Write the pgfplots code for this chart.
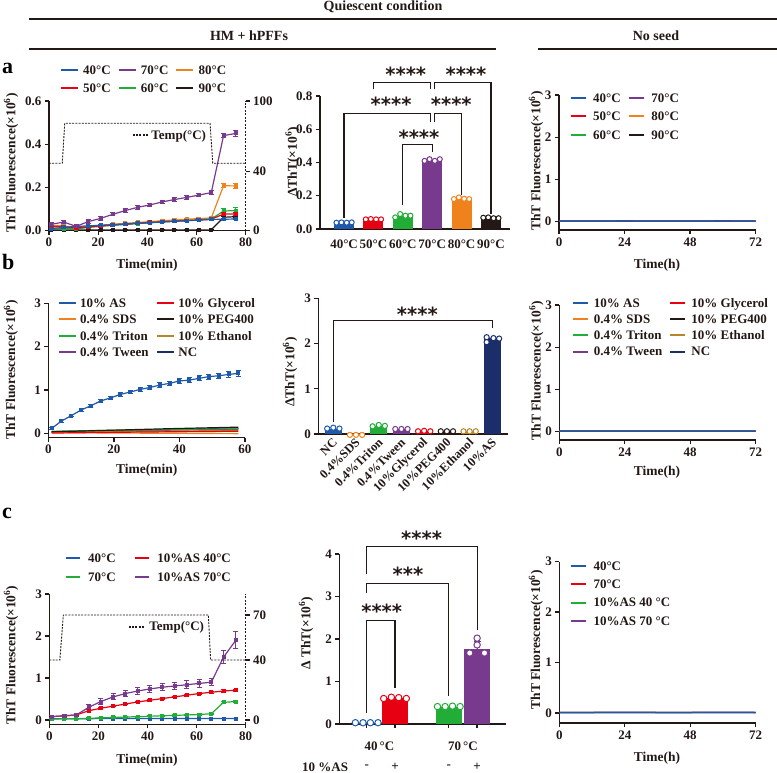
\documentclass[border=0pt]{standalone}
\usepackage{pgfplots}
\pgfplotsset{compat=1.18}
\usepackage{pgfplotstable}
\usepackage{fontspec}
\setmainfont{Liberation Serif}
\newfontfamily\starfont{DejaVu Sans}
\definecolor{ax}{RGB}{35,24,21}
\definecolor{cblue}{RGB}{31,90,170}
\definecolor{cred}{RGB}{230,0,18}
\definecolor{cgreen}{RGB}{34,172,56}
\definecolor{cpurple}{RGB}{120,58,140}
\definecolor{corange}{RGB}{240,130,30}
\definecolor{cblack}{RGB}{35,24,21}
\definecolor{cnavy}{RGB}{28,46,106}
\definecolor{cochre}{RGB}{184,134,40}
\newcommand\fs[1]{\fontsize{#1}{#1}\selectfont\bfseries}
\newcommand\lb[2]{\makebox[#1][l]{#2}}

\tikzset{bk/.style={line width=1.2pt, draw=ax},
  st/.style={font=\starfont\bfseries\fontsize{19.5}{19.5}\selectfont, text=ax, inner sep=0pt, anchor=base, yshift=-11pt}}

\pgfplotsset{
  panel/.style={scale only axis, anchor=south west,
    axis x line*=bottom, axis y line*=left,
    axis line style={line width=1.3pt, draw=ax},
    tick align=outside, major tick length=4pt,
    tick style={line width=1.3pt, draw=ax},
    tick label style={font=\fs{13}, text=ax},
    label style={font=\fs{13.5}, text=ax},
    /pgf/number format/assume math mode=true,
    legend cell align=left},
  tempax/.style={scale only axis, anchor=south west, axis x line=none, axis y line*=right,
    axis line style={line width=1.1pt, draw=ax, dash pattern=on 2pt off 1.5pt},
    tick align=outside, major tick length=4pt,
    tick style={line width=1.1pt, draw=ax, solid},
    tick label style={font=\fs{13}, text=ax},
    /pgf/number format/assume math mode=true,
    legend cell align=left},
  lgline/.style 2 args={legend image code/.code={\draw[line width=2pt, ##1] (0pt,0pt) -- (#1,0pt); \path (#2,0pt);}},
  lgbase/.style={legend style={draw=none, fill=none, inner sep=0pt, outer sep=0pt,
    at={(axis description cs:0,1)}, anchor=north west,
    nodes={inner xsep=0pt, inner ysep=0.5pt, text height=10pt, text depth=1.5pt, text=ax}}},
  dat/.style={forget plot, line width=1.2pt, mark=square*, mark size=1.4pt,
    error bars/y dir=both, error bars/y explicit, error bars/error bar style={line width=1pt},
    error bars/error mark options={rotate=90, mark size=2.5pt, line width=1pt}},
  flat/.style={forget plot, line width=1.2pt},
  dots/.style={forget plot, only marks, mark=*, mark size=#1, mark options={fill=white, line width=1pt}},
  onebar/.style={forget plot, ybar, bar shift=0pt, bar width=#1, draw=none},
  tline/.style={ax, line width=0.9pt, dash pattern=on 2pt off 1.2pt}
}

% panel a, HM + hPFFs, ThT kinetics
\pgfplotstableread{
t b be r re g ge o oe p pe k ke
1 0.010 0.004 0.020 0.005 0.012 0.004 0.025 0.005 0.030 0.008 0.003 0.002
6 0.015 0.004 0.018 0.005 0.010 0.004 0.022 0.005 0.040 0.008 0.003 0.002
11 0.020 0.004 0.012 0.005 0.008 0.004 0.015 0.005 0.020 0.008 0.003 0.002
16 0.022 0.004 0.018 0.005 0.015 0.004 0.020 0.005 0.042 0.008 0.003 0.002
21 0.025 0.004 0.022 0.005 0.020 0.004 0.025 0.005 0.057 0.008 0.003 0.002
26 0.028 0.004 0.026 0.005 0.025 0.004 0.030 0.005 0.076 0.008 0.003 0.002
31 0.031 0.004 0.030 0.005 0.029 0.004 0.034 0.005 0.093 0.008 0.003 0.002
36 0.034 0.004 0.034 0.005 0.033 0.004 0.038 0.005 0.108 0.008 0.003 0.002
41 0.037 0.004 0.038 0.005 0.037 0.004 0.042 0.005 0.119 0.008 0.003 0.002
46 0.040 0.004 0.041 0.005 0.041 0.004 0.046 0.005 0.133 0.008 0.003 0.002
51 0.043 0.004 0.044 0.005 0.044 0.004 0.050 0.005 0.144 0.008 0.003 0.002
56 0.046 0.004 0.047 0.005 0.047 0.004 0.053 0.005 0.154 0.008 0.003 0.002
61 0.049 0.004 0.050 0.005 0.050 0.004 0.056 0.005 0.165 0.008 0.003 0.002
66 0.052 0.004 0.053 0.005 0.054 0.004 0.059 0.005 0.176 0.008 0.004 0.002
71 0.053 0.004 0.077 0.008 0.091 0.012 0.208 0.010 0.440 0.010 0.062 0.004
76 0.054 0.004 0.077 0.008 0.093 0.012 0.207 0.010 0.450 0.015 0.065 0.004
}\tA

% panel b, HM + hPFFs, additives
\pgfplotstableread{
t as ase sds gly tri peg eth twe nc
1 0.115 0.030 0.020 0.010 0.050 0.040 0.030 0.040 0.030
4 0.285 0.030 0.020 0.012 0.054 0.045 0.032 0.043 0.035
7 0.410 0.030 0.016 0.015 0.058 0.050 0.034 0.046 0.040
10 0.540 0.030 0.015 0.017 0.062 0.056 0.036 0.049 0.045
13 0.640 0.035 0.014 0.020 0.066 0.062 0.038 0.052 0.050
16 0.750 0.035 0.012 0.022 0.070 0.068 0.040 0.055 0.055
19 0.820 0.040 0.010 0.025 0.073 0.074 0.042 0.058 0.060
22 0.900 0.040 0.010 0.027 0.076 0.080 0.044 0.061 0.065
25 0.955 0.040 0.009 0.030 0.079 0.086 0.046 0.064 0.070
28 1.015 0.045 0.007 0.032 0.082 0.092 0.048 0.067 0.075
31 1.060 0.045 0.006 0.034 0.085 0.098 0.050 0.070 0.080
34 1.115 0.050 0.005 0.036 0.088 0.104 0.052 0.073 0.085
37 1.155 0.050 0.004 0.038 0.091 0.110 0.054 0.076 0.090
40 1.210 0.050 0.002 0.040 0.094 0.115 0.056 0.079 0.095
43 1.230 0.055 0.001 0.042 0.097 0.120 0.058 0.082 0.100
46 1.270 0.055 0.000 0.044 0.100 0.125 0.060 0.085 0.103
49 1.310 0.060 -0.002 0.046 0.103 0.130 0.062 0.088 0.106
52 1.330 0.060 -0.003 0.048 0.106 0.135 0.064 0.091 0.109
55 1.360 0.060 -0.004 0.050 0.108 0.140 0.066 0.094 0.112
58 1.385 0.065 -0.005 0.050 0.110 0.145 0.068 0.097 0.115
}\tB

% panel c, HM + hPFFs, AS and temperature
\pgfplotstableread{
t b be r re g ge p pe
1 0.030 0.010 0.080 0.020 0.020 0.015 0.080 0.030
6 0.030 0.010 0.100 0.020 0.030 0.015 0.100 0.030
11 0.030 0.010 0.120 0.020 0.030 0.015 0.120 0.030
16 0.030 0.010 0.220 0.020 0.040 0.015 0.300 0.060
21 0.035 0.010 0.280 0.020 0.050 0.015 0.440 0.060
26 0.035 0.010 0.330 0.020 0.060 0.015 0.550 0.070
31 0.035 0.010 0.380 0.020 0.070 0.015 0.630 0.070
36 0.035 0.010 0.430 0.020 0.080 0.015 0.690 0.080
41 0.035 0.010 0.470 0.020 0.090 0.015 0.740 0.080
46 0.035 0.010 0.510 0.020 0.100 0.015 0.780 0.080
51 0.035 0.010 0.550 0.020 0.110 0.015 0.810 0.080
56 0.035 0.010 0.590 0.025 0.120 0.015 0.840 0.090
61 0.035 0.010 0.630 0.025 0.130 0.015 0.870 0.090
66 0.035 0.010 0.660 0.025 0.150 0.015 0.900 0.090
71 0.035 0.010 0.690 0.025 0.420 0.030 1.500 0.150
76 0.035 0.010 0.710 0.025 0.440 0.030 1.900 0.200
}\tC

% no-seed controls, flat baselines
\pgfplotstableread{
h v
0 0.010
12 0.010
24 0.011
36 0.010
48 0.010
60 0.011
72 0.010
}\tN

\begin{document}
\begin{tikzpicture}
\path[use as bounding box] (0pt,0pt) rectangle (777pt,773pt);

% ---------- header ----------
\node[font=\fs{14}, text=ax] at (383pt,766pt) {Quiescent condition};
\draw[line width=2.5pt, ax] (29pt,754pt) -- (777pt,754pt);
\node[font=\fs{14}, text=ax] at (249pt,737pt) {HM + hPFFs};
\node[font=\fs{14}, text=ax] at (656pt,737pt) {No seed};
\draw[line width=2.5pt, ax] (29pt,724pt) -- (496pt,724pt);
\draw[line width=2.5pt, ax] (538pt,724pt) -- (777pt,724pt);
\node[font=\fs{22}, anchor=base west, inner sep=0pt] at (2pt,699.7pt) {a};
\node[font=\fs{22}, anchor=base west, inner sep=0pt] at (2pt,503pt) {b};
\node[font=\fs{22}, anchor=base west, inner sep=0pt] at (2pt,254.7pt) {c};

% ---------- a left ----------
\begin{axis}[panel, at={(49pt,542.3pt)}, width=196.7pt, height=129.7pt,
  xmin=0, xmax=80, ymin=0, ymax=0.6, xtick={0,20,40,60,80}, ytick={0,0.2,0.4,0.6},
  yticklabel style={/pgf/number format/.cd, fixed, fixed zerofill, precision=1},
  xlabel={Time(min)}, ylabel={ThT Fluorescence(×10\textsuperscript{6})},
  xlabel style={at={(axis description cs:0.498,-0.264)}, anchor=center},
  ylabel style={at={(axis description cs:-0.193,0.522)}, anchor=center},
  lgbase, legend columns=3, lgline={17pt}{22pt},
  legend style={xshift=11pt, yshift=37.25pt, row sep=5.5pt, font=\fs{13},
    /tikz/every even column/.append style={column sep=6.5pt}}]
\addplot[dat, cblack] table[x=t, y=k, y error=ke] {\tA};
\addplot[dat, corange] table[x=t, y=o, y error=oe] {\tA};
\addplot[dat, cgreen] table[x=t, y=g, y error=ge] {\tA};
\addplot[dat, cred] table[x=t, y=r, y error=re] {\tA};
\addplot[dat, cblue] table[x=t, y=b, y error=be] {\tA};
\addplot[dat, cpurple] table[x=t, y=p, y error=pe] {\tA};
\addlegendimage{cblue}\addlegendentry{\lb{28pt}{40°C}}
\addlegendimage{cpurple}\addlegendentry{\lb{28pt}{70°C}}
\addlegendimage{corange}\addlegendentry{80°C}
\addlegendimage{cred}\addlegendentry{\lb{28pt}{50°C}}
\addlegendimage{cgreen}\addlegendentry{\lb{28pt}{60°C}}
\addlegendimage{cblack}\addlegendentry{90°C}
\end{axis}
\begin{axis}[tempax, at={(49pt,542.3pt)}, width=196.7pt, height=129.7pt,
  xmin=0, xmax=80, ymin=0, ymax=100, ytick={0,45.5,100}, yticklabels={0,40,100},
  lgbase, lgline={15pt}{18pt}, legend style={xshift=83pt, yshift=-27.75pt, font=\fs{13}}]
\addplot[tline, forget plot] coordinates {(0,52) (5.4,52) (6.4,82.8) (65.5,82.8) (66.6,52) (80,52)};
\addlegendimage{tline}\addlegendentry{Temp(°C)}
\end{axis}

% ---------- a middle ----------
\begin{axis}[panel, at={(320pt,544pt)}, width=190pt, height=133pt, clip=false,
  xmin=-0.82, xmax=5.65, ymin=0, ymax=0.8, ytick={0,0.2,0.4,0.6,0.8},
  yticklabel style={/pgf/number format/.cd, fixed, fixed zerofill, precision=1},
  xtick={0,1,2,3,4,5}, xticklabels={40°C,50°C,60°C,70°C,80°C,90°C},
  xtick style={draw=none}, xticklabel style={yshift=-3pt},
  ylabel={ΔThT(×10\textsuperscript{6})},
  ylabel style={at={(axis description cs:-0.145,0.504)}, anchor=center}]
\addplot[onebar=0.68, fill=cblue] coordinates {(0,0.038)};
\addplot[onebar=0.68, fill=cred] coordinates {(1,0.058)};
\addplot[onebar=0.68, fill=cgreen] coordinates {(2,0.078)};
\addplot[onebar=0.68, fill=cpurple] coordinates {(3,0.415)};
\addplot[onebar=0.68, fill=corange] coordinates {(4,0.182)};
\addplot[onebar=0.68, fill=cblack] coordinates {(5,0.066)};
\addplot[dots=2.5pt, draw=cblue] coordinates {(-0.26,0.038) (-0.09,0.040) (0.09,0.038) (0.26,0.040)};
\addplot[dots=2.5pt, draw=cred] coordinates {(0.74,0.058) (0.91,0.060) (1.09,0.058) (1.26,0.058)};
\addplot[dots=2.5pt, draw=cgreen] coordinates {(1.74,0.070) (1.91,0.090) (2.09,0.080) (2.26,0.080)};
\addplot[dots=2.5pt, draw=cpurple] coordinates {(2.74,0.410) (2.91,0.420) (3.09,0.410) (3.26,0.420)};
\addplot[dots=2.5pt, draw=corange] coordinates {(3.74,0.180) (3.91,0.190) (4.09,0.182) (4.26,0.180)};
\addplot[dots=2.5pt, draw=cblack] coordinates {(4.74,0.068) (4.91,0.070) (5.09,0.065) (5.26,0.065)};
\draw[bk] (axis cs:2,0.145) -- (axis cs:2,0.509) -- (axis cs:3,0.509) -- (axis cs:3,0.465);
\draw[bk] (axis cs:0,0.065) -- (axis cs:0,0.694) -- (axis cs:2.93,0.694) -- (axis cs:2.93,0.645);
\draw[bk] (axis cs:3.07,0.645) -- (axis cs:3.07,0.694) -- (axis cs:4,0.694) -- (axis cs:4,0.205);
\draw[bk] (axis cs:1,0.84) -- (axis cs:1,0.88) -- (axis cs:2.93,0.88) -- (axis cs:2.93,0.84);
\draw[bk] (axis cs:3.07,0.84) -- (axis cs:3.07,0.88) -- (axis cs:5,0.88) -- (axis cs:5,0.088);
\node[st] at (axis cs:2.55,0.575) {****};
\node[st] at (axis cs:1.6,0.77) {****};
\node[st] at (axis cs:3.65,0.77) {****};
\node[st] at (axis cs:2.1,0.956) {****};
\node[st] at (axis cs:4.15,0.956) {****};
\end{axis}

% ---------- a right ----------
\begin{axis}[panel, at={(559pt,543pt)}, width=196.7pt, height=135pt,
  xmin=0, xmax=72, ymin=-0.2, ymax=3, xtick={0,24,48,72}, ytick={0,1,2,3},
  xlabel={Time(h)}, ylabel={ThT Fluorescence(×10\textsuperscript{6})},
  xlabel style={at={(axis description cs:0.498,-0.259)}, anchor=center},
  ylabel style={at={(axis description cs:-0.117,0.511)}, anchor=center},
  lgbase, legend columns=2, lgline={15pt}{22pt},
  legend style={xshift=11pt, yshift=3.25pt, row sep=6pt, font=\fs{13},
    /tikz/every even column/.append style={column sep=6pt}}]
\addplot[flat, cblack] table[x=h, y=v] {\tN};
\addplot[flat, corange] table[x=h, y=v] {\tN};
\addplot[flat, cgreen] table[x=h, y=v] {\tN};
\addplot[flat, cpurple] table[x=h, y=v] {\tN};
\addplot[flat, cred] table[x=h, y=v] {\tN};
\addplot[flat, cblue, line width=1.5pt] table[x=h, y=v] {\tN};
\addlegendimage{cblue}\addlegendentry{\lb{29pt}{40°C}}
\addlegendimage{cpurple}\addlegendentry{70°C}
\addlegendimage{cred}\addlegendentry{\lb{29pt}{50°C}}
\addlegendimage{corange}\addlegendentry{80°C}
\addlegendimage{cgreen}\addlegendentry{\lb{29pt}{60°C}}
\addlegendimage{cblack}\addlegendentry{90°C}
\end{axis}

% ---------- b left ----------
\begin{axis}[panel, at={(48.3pt,335.2pt)}, width=196.7pt, height=134.5pt,
  xmin=0, xmax=60, ymin=-0.1, ymax=3, xtick={0,20,40,60}, ytick={0,1,2,3},
  xlabel={Time(min)}, ylabel={ThT Fluorescence(×10\textsuperscript{6})},
  xlabel style={at={(axis description cs:0.5,-0.239)}, anchor=center},
  ylabel style={at={(axis description cs:-0.19,0.504)}, anchor=center},
  lgbase, legend columns=2, lgline={17pt}{21pt},
  legend style={xshift=9.7pt, yshift=6.55pt, row sep=4pt, font=\fs{13},
    /tikz/every even column/.append style={column sep=6pt}}]
\addplot[flat, cnavy] table[x=t, y=nc] {\tB};
\addplot[flat, cpurple] table[x=t, y=twe] {\tB};
\addplot[flat, cochre] table[x=t, y=eth] {\tB};
\addplot[flat, corange] table[x=t, y=sds] {\tB};
\addplot[flat, cgreen] table[x=t, y=tri] {\tB};
\addplot[flat, cblack] table[x=t, y=peg] {\tB};
\addplot[flat, cred] table[x=t, y=gly] {\tB};
\addplot[dat, cblue] table[x=t, y=as, y error=ase] {\tB};
\addlegendimage{cblue}\addlegendentry{\lb{70pt}{10\% AS}}
\addlegendimage{cred}\addlegendentry{10\% Glycerol}
\addlegendimage{corange}\addlegendentry{\lb{70pt}{0.4\% SDS}}
\addlegendimage{cblack}\addlegendentry{10\% PEG400}
\addlegendimage{cgreen}\addlegendentry{\lb{70pt}{0.4\% Triton}}
\addlegendimage{cochre}\addlegendentry{10\% Ethanol}
\addlegendimage{cpurple}\addlegendentry{\lb{70pt}{0.4\% Tween}}
\addlegendimage{cnavy}\addlegendentry{NC}
\end{axis}

% ---------- b middle ----------
\begin{axis}[panel, at={(318.3pt,339pt)}, width=189.7pt, height=135.7pt, clip=false,
  xmin=-0.66, xmax=7.69, ymin=0, ymax=3, ytick={0,1,2,3},
  xtick={0,1,2,3,4,5,6,7},
  xticklabels={NC,0.4\%SDS,0.4\%Triton,0.4\%Tween,10\%Glycerol,10\%PEG400,10\%Ethanol,10\%AS},
  xtick style={draw=none}, xticklabel style={rotate=45, anchor=east, font=\fs{12.5}, xshift=3pt, yshift=-3pt},
  ylabel={ΔThT(×10\textsuperscript{6})},
  ylabel style={at={(axis description cs:-0.149,0.457)}, anchor=center}]
\addplot[onebar=0.73, fill=cblue] coordinates {(0,0.12)};
\addplot[onebar=0.73, fill=corange] coordinates {(1,-0.01)};
\addplot[onebar=0.73, fill=cgreen] coordinates {(2,0.18)};
\addplot[onebar=0.73, fill=cpurple] coordinates {(3,0.11)};
\addplot[onebar=0.73, fill=cred] coordinates {(4,0.065)};
\addplot[onebar=0.73, fill=cblack] coordinates {(5,0.06)};
\addplot[onebar=0.73, fill=cochre] coordinates {(6,0.06)};
\addplot[onebar=0.73, fill=cnavy] coordinates {(7,2.12)};
\addplot[dots=2.6pt, draw=cblue] coordinates {(-0.27,0.12) (0,0.14) (0.27,0.12)};
\addplot[dots=2.6pt, draw=corange] coordinates {(0.73,-0.02) (1,-0.02) (1.27,-0.02)};
\addplot[dots=2.6pt, draw=cgreen] coordinates {(1.73,0.17) (2,0.20) (2.27,0.18)};
\addplot[dots=2.6pt, draw=cpurple] coordinates {(2.73,0.11) (3,0.11) (3.27,0.11)};
\addplot[dots=2.6pt, draw=cred] coordinates {(3.73,0.06) (4,0.07) (4.27,0.06)};
\addplot[dots=2.6pt, draw=cblack] coordinates {(4.73,0.06) (5,0.06) (5.27,0.06)};
\addplot[dots=2.6pt, draw=cochre] coordinates {(5.73,0.06) (6,0.06) (6.27,0.06)};
\addplot[dots=2.6pt, draw=cnavy] coordinates {(6.75,2.14) (6.75,2.03) (7.05,2.12) (7.3,2.11)};
\draw[bk] (axis cs:0,0.27) -- (axis cs:0,2.505) -- (axis cs:7,2.505) -- (axis cs:7,2.34);
\node[st] at (axis cs:3.7,2.73) {****};
\end{axis}

% ---------- b right ----------
\begin{axis}[panel, at={(559.3pt,332.9pt)}, width=196.4pt, height=135.1pt,
  xmin=0, xmax=72, ymin=-0.2, ymax=3, xtick={0,24,48,72}, ytick={0,1,2,3},
  xlabel={Time(h)}, ylabel={ThT Fluorescence(×10\textsuperscript{6})},
  xlabel style={at={(axis description cs:0.498,-0.241)}, anchor=center},
  ylabel style={at={(axis description cs:-0.117,0.513)}, anchor=center},
  lgbase, legend columns=2, lgline={15pt}{21pt},
  legend style={xshift=12.4pt, yshift=7.95pt, row sep=3.6pt, font=\fs{13},
    /tikz/every even column/.append style={column sep=5.3pt}}]
\addplot[flat, cnavy] table[x=h, y=v] {\tN};
\addplot[flat, cochre] table[x=h, y=v] {\tN};
\addplot[flat, cblack] table[x=h, y=v] {\tN};
\addplot[flat, cpurple] table[x=h, y=v] {\tN};
\addplot[flat, cgreen] table[x=h, y=v] {\tN};
\addplot[flat, corange] table[x=h, y=v] {\tN};
\addplot[flat, cred] table[x=h, y=v] {\tN};
\addplot[flat, cblue, line width=1.5pt] table[x=h, y=v] {\tN};
\addlegendimage{cblue}\addlegendentry{\lb{70pt}{10\% AS}}
\addlegendimage{cred}\addlegendentry{10\% Glycerol}
\addlegendimage{corange}\addlegendentry{\lb{70pt}{0.4\% SDS}}
\addlegendimage{cblack}\addlegendentry{10\% PEG400}
\addlegendimage{cgreen}\addlegendentry{\lb{70pt}{0.4\% Triton}}
\addlegendimage{cochre}\addlegendentry{10\% Ethanol}
\addlegendimage{cpurple}\addlegendentry{\lb{70pt}{0.4\% Tween}}
\addlegendimage{cnavy}\addlegendentry{NC}
\end{axis}

% ---------- c left ----------
\begin{axis}[panel, at={(49.3pt,48.8pt)}, width=196.4pt, height=130.2pt,
  xmin=0, xmax=80, ymin=-0.1, ymax=3, xtick={0,20,40,60,80}, ytick={0,1,2,3},
  xlabel={Time(min)}, ylabel={ThT Fluorescence(×10\textsuperscript{6})},
  xlabel style={at={(axis description cs:0.498,-0.275)}, anchor=center},
  ylabel style={at={(axis description cs:-0.195,0.531)}, anchor=center},
  lgbase, legend columns=2, lgline={14pt}{22pt},
  legend style={xshift=15.7pt, yshift=42.25pt, row sep=6.5pt, font=\fs{13},
    /tikz/every even column/.append style={column sep=6pt}}]
\addplot[dat, cblue] table[x=t, y=b, y error=be] {\tC};
\addplot[dat, cgreen] table[x=t, y=g, y error=ge] {\tC};
\addplot[dat, cred] table[x=t, y=r, y error=re] {\tC};
\addplot[dat, cpurple] table[x=t, y=p, y error=pe] {\tC};
\addlegendimage{cblue}\addlegendentry{\lb{40pt}{40°C}}
\addlegendimage{cred}\addlegendentry{10\%AS 40°C}
\addlegendimage{cgreen}\addlegendentry{\lb{40pt}{70°C}}
\addlegendimage{cpurple}\addlegendentry{10\%AS 70°C}
\end{axis}
\begin{axis}[tempax, at={(49.3pt,48.8pt)}, width=196.4pt, height=130.2pt,
  xmin=0, xmax=80, ymin=-2.8, ymax=84, ytick={0,40,70},
  lgbase, lgline={15pt}{20pt}, legend style={xshift=78.7pt, yshift=-26.4pt, font=\fs{13}}]
\addplot[tline, forget plot] coordinates {(0,40) (4.3,40) (5.7,70) (64.8,70) (65.7,40) (80,40)};
\addlegendimage{tline}\addlegendentry{Temp(°C)}
\end{axis}

% ---------- c middle ----------
\begin{axis}[panel, at={(339.3pt,49pt)}, width=166.7pt, height=170pt, clip=false,
  xmin=-0.968, xmax=4.92, ymin=0, ymax=4, ytick={0,1,2,3,4},
  xtick={0,1,2.9,3.9}, xticklabels={,,,},
  ylabel={Δ ThT(×10\textsuperscript{6})},
  ylabel style={at={(axis description cs:-0.2,0.535)}, anchor=center}]
\addplot[onebar=0.94, fill=cblue] coordinates {(0,0.02)};
\addplot[onebar=0.94, fill=cred] coordinates {(1,0.61)};
\addplot[onebar=0.94, fill=cgreen] coordinates {(2.9,0.41)};
\addplot[onebar=0.94, fill=cpurple] coordinates {(3.9,1.77)};
\addplot[forget plot, draw=none, mark=none, error bars/.cd, y dir=plus, y explicit,
  error bar style={draw=cpurple, line width=1.2pt},
  error mark options={rotate=90, mark size=3.5pt, draw=cpurple, line width=1.2pt}]
  coordinates {(3.9,1.77) +- (0,0.17)};
\addplot[dots=3.2pt, draw=cblue] coordinates {(-0.4,0.03) (-0.13,0.03) (0.13,0.03) (0.4,0.03)};
\addplot[dots=3.2pt, draw=cred] coordinates {(0.6,0.60) (0.87,0.63) (1.13,0.62) (1.4,0.60)};
\addplot[dots=3.2pt, draw=cgreen] coordinates {(2.5,0.41) (2.77,0.41) (3.03,0.42) (3.3,0.41)};
\addplot[dots=3.2pt, draw=cpurple] coordinates {(3.9,2.02) (3.9,1.86) (3.64,1.67) (4.16,1.67)};
\draw[bk] (axis cs:0,0.25) -- (axis cs:0,2.44) -- (axis cs:1,2.44) -- (axis cs:1,0.84);
\draw[bk] (axis cs:0,3.09) -- (axis cs:0,3.31) -- (axis cs:2.9,3.31) -- (axis cs:2.9,0.65);
\draw[bk] (axis cs:0,3.54) -- (axis cs:0,4.17) -- (axis cs:3.9,4.17) -- (axis cs:3.9,2.22);
\node[st] at (axis cs:0.53,2.73) {****};
\node[st] at (axis cs:1.46,3.6) {***};
\node[st] at (axis cs:1.94,4.46) {****};
\node[font=\fs{13}, text=ax, yshift=-22.7pt] at (axis cs:0.45,0) {40\,°C};
\node[font=\fs{13}, text=ax, yshift=-22.7pt] at (axis cs:3.4,0) {70\,°C};
\node[font=\fs{13}, text=ax, yshift=-43pt] at (axis cs:-1.47,0) {10 \%AS};
\node[font=\fs{13}, text=ax, yshift=-43pt] at (axis cs:0,0) {-};
\node[font=\fs{13}, text=ax, yshift=-43pt] at (axis cs:1,0) {+};
\node[font=\fs{13}, text=ax, yshift=-43pt] at (axis cs:2.9,0) {-};
\node[font=\fs{13}, text=ax, yshift=-43pt] at (axis cs:3.9,0) {+};
\end{axis}

% ---------- c right ----------
\begin{axis}[panel, at={(559.3pt,49.9pt)}, width=196.4pt, height=161.4pt,
  xmin=0, xmax=72, ymin=-0.2, ymax=3, xtick={0,24,48,72}, ytick={0,1,2,3},
  xlabel={Time(h)}, ylabel={ThT Fluorescence(×10\textsuperscript{6})},
  xlabel style={at={(axis description cs:0.498,-0.216)}, anchor=center},
  ylabel style={at={(axis description cs:-0.119,0.515)}, anchor=center},
  lgbase, legend columns=1, lgline={15pt}{22pt},
  legend style={xshift=11pt, yshift=1.95pt, row sep=5.8pt, font=\fs{13}}]
\addplot[flat, cpurple] table[x=h, y=v] {\tN};
\addplot[flat, cgreen] table[x=h, y=v] {\tN};
\addplot[flat, cred] table[x=h, y=v] {\tN};
\addplot[flat, cblue, line width=1.5pt] table[x=h, y=v] {\tN};
\addlegendimage{cblue}\addlegendentry{40°C}
\addlegendimage{cred}\addlegendentry{70°C}
\addlegendimage{cgreen}\addlegendentry{10\%AS 40 °C}
\addlegendimage{cpurple}\addlegendentry{10\%AS 70 °C}
\end{axis}
\end{tikzpicture}
\end{document}
